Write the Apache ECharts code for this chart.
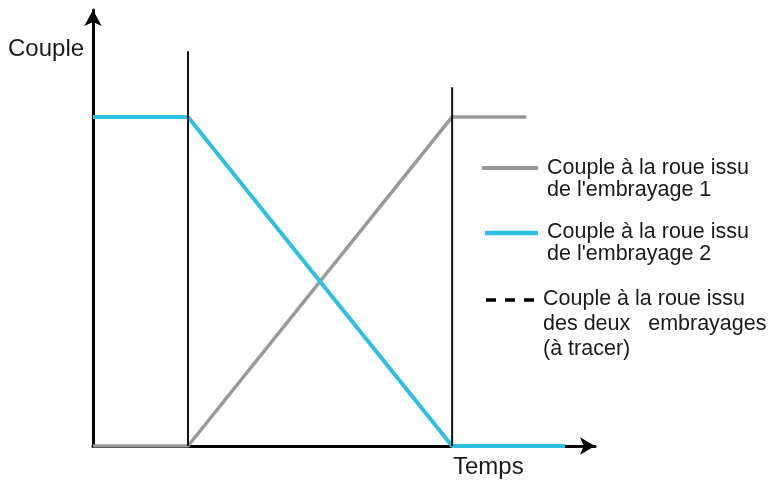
<!DOCTYPE html>
<html style="height: 100%">
<head>
<meta charset="UTF-8">
<script src="https://cdn.jsdelivr.net/npm/echarts@6/dist/echarts.min.js"></script>
</head>
<body style="height: 100%; margin: 0; background: #fff">
<div id="container" style="width: 770px; height: 482px"></div>
<script type="text/javascript">
// couple issu de l'embrayage 1 (gris)
var tempsGris = [0, 1, 3.78, 4.56];
var coupleGris = [0, 0, 100, 100];
// couple issu de l'embrayage 2 (bleu)
var tempsBleu = [0, 1, 3.78, 4.97];
var coupleBleu = [100, 100, 0, 0];
// traits verticaux debut / fin de la phase de passage
var tempsRepere = [1, 3.78];
var hautRepere = [120, 109];

var nomAxeY = 'Couple';
var nomAxeX = 'Temps';
var legende1 = "Couple à la roue issu\nde l'embrayage 1";
var legende2 = "Couple à la roue issu\nde l'embrayage 2";
var legende3 = "Couple à la roue issu\ndes deux   embrayages\n(à tracer)";

var gris = '#999999';
var bleu = '#2fbfe0';
var police = 'Liberation Sans, Arial, sans-serif';

function paires(xs, ys) {
	var out = [];
	for (var i = 0; i < xs.length; i++) out.push([xs[i], ys[i]]);
	return out;
}

var series = [
	{
		name: 'embrayage 1', type: 'line', symbol: 'none', z: 3,
		data: paires(tempsGris, coupleGris),
		lineStyle: { color: gris, width: 3.5 }
	},
	{
		name: 'embrayage 2', type: 'line', symbol: 'none', z: 4,
		data: paires(tempsBleu, coupleBleu),
		lineStyle: { color: bleu, width: 4 }
	}
];
for (var i = 0; i < tempsRepere.length; i++) {
	series.push({
		type: 'line', symbol: 'none', z: 5, silent: true,
		data: [[tempsRepere[i], 0], [tempsRepere[i], hautRepere[i]]],
		lineStyle: { color: '#111', width: 2 }
	});
}

var myChart = echarts.init(document.getElementById('container'));
var option = {
	animation: false,
	grid: { left: 93, top: 10, width: 502, height: 436 },
	xAxis: {
		type: 'value', min: 0, max: 5.284,
		axisLine: { show: true, symbol: ['none', 'arrow'], symbolSize: [13, 15],
			lineStyle: { color: '#000', width: 3 } },
		axisTick: { show: false }, axisLabel: { show: false }, splitLine: { show: false }
	},
	yAxis: {
		type: 'value', min: 0, max: 132.5,
		axisLine: { show: true, symbol: ['none', 'arrow'], symbolSize: [13, 16],
			lineStyle: { color: '#000', width: 3 } },
		axisTick: { show: false }, axisLabel: { show: false }, splitLine: { show: false }
	},
	series: series,
	graphic: [
		{ type: 'text', left: 8, top: 37, style: { text: nomAxeY, font: '24px ' + police, fill: '#1a1a1a' } },
		{ type: 'text', left: 453, top: 455, style: { text: nomAxeX, font: '24px ' + police, fill: '#1a1a1a' } },
		{ type: 'line', shape: { x1: 482, y1: 168, x2: 538, y2: 168 }, style: { stroke: gris, lineWidth: 4 } },
		{ type: 'text', left: 547, top: 157, style: { text: legende1, font: '21.5px ' + police, lineHeight: 22, fill: '#1a1a1a' } },
		{ type: 'line', shape: { x1: 485, y1: 233, x2: 538, y2: 233 }, style: { stroke: bleu, lineWidth: 4.5 } },
		{ type: 'text', left: 547, top: 221, style: { text: legende2, font: '21.5px ' + police, lineHeight: 22, fill: '#1a1a1a' } },
		{ type: 'line', shape: { x1: 486, y1: 300, x2: 540, y2: 300 }, style: { stroke: '#000', lineWidth: 3.5, lineDash: [10, 9] } },
		{ type: 'text', left: 543, top: 287, style: { text: legende3, font: '21.5px ' + police, lineHeight: 25, fill: '#1a1a1a' } }
	]
};
myChart.setOption(option);
</script>
</body>
</html>
